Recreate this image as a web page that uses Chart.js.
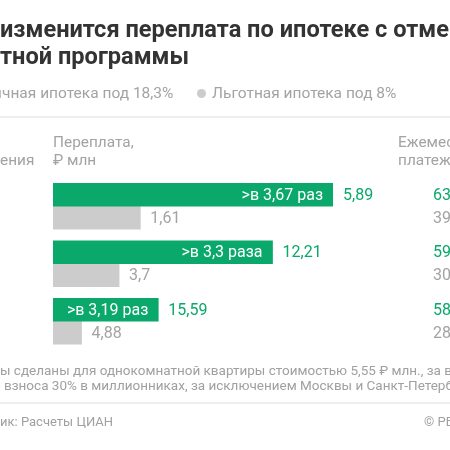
<!DOCTYPE html>
<html>
<head>
<meta charset="utf-8">
<script src="https://cdn.jsdelivr.net/npm/chart.js@4.4.1/dist/chart.umd.min.js"></script>
<style>
  html, body { margin:0; padding:0; width:450px; height:450px; overflow:hidden; background:#fff; }
  body { position:relative; font-family: Roboto, "Noto Sans", sans-serif; }
  .t { position:absolute; white-space:nowrap; }
  .hid { position:absolute; right:100%; top:0; }
  .title { font-weight:700; font-size:23.6px; line-height:27px; color:#333; }
  .leg { font-size:15.5px; line-height:18px; color:#a3a3a3; }
  .hdr { font-size:15.4px; line-height:18px; color:#a3a3a3; }
  .note { font-size:13.5px; line-height:16px; color:#a0a0a0; }
  .src { font-size:13px; line-height:16px; color:#a0a0a0; }
  .rule { position:absolute; left:0; width:450px; height:2px; background:#eeeeee; }
  #wrap { position:absolute; left:0; top:0; width:450px; height:450px; }
</style>
</head>
<body>
<div id="wrap"><canvas id="c" width="450" height="450"></canvas></div>

<div class="t title" style="left:0; top:16px;"><span class="hid">Как&nbsp;</span>изменится переплата по ипотеке с отменой</div>
<div class="t title" style="left:0; top:43px;"><span class="hid">льго</span>тной программы</div>

<div class="t leg" style="left:2px; top:84px;"><span class="hid">● Ры</span>чная ипотека под 18,3%</div>
<div style="position:absolute; left:197px; top:89px; width:9px; height:9px; border-radius:50%; background:#cccccc;"></div>
<div class="t leg" style="left:212px; top:84px;">Льготная ипотека под 8%</div>

<div class="rule" style="top:116px;"></div>

<div class="t hdr" style="left:0; top:151px;"><span class="hid">погаш</span>ения</div>
<div class="t hdr" style="left:53px; top:133px;">Переплата,</div>
<div class="t hdr" style="left:53px; top:151px;">₽ млн</div>
<div class="t hdr" style="left:398px; top:133px;">Ежемесячный</div>
<div class="t hdr" style="left:398px; top:151px;">платеж, ₽</div>

<div class="t note" style="left:0; top:362px;"><span class="hid">*Расчет</span>ы сделаны для однокомнатной квартиры стоимостью 5,55 ₽ млн., за вычетом</div>
<div class="t note" style="left:4px; top:377px;"><span class="hid">первоначального&nbsp;</span>взноса 30% в миллионниках, за исключением Москвы и Санкт-Петербурга</div>

<div class="rule" style="top:402px;"></div>

<div class="t src" style="left:0; top:414px;"><span class="hid">Источн</span>ик: Расчеты ЦИАН</div>
<div class="t src" style="left:424px; top:414px;">© РБК</div>

<script>
// Row categories (row labels are cut off at the left edge in the reference)
const categories = ["Ряд 1", "Ряд 2", "Ряд 3"];
// Bar lengths as drawn in the picture (relative units, longest bar = 100)
const marketBarLength = [100, 78.4, 37.6];
const preferentialBarLength = [31.2, 23.6, 10.2];
// Printed overpayment values, ₽ mln
const marketOverpay = ["5,89", "12,21", "15,59"];
const preferentialOverpay = ["1,61", "3,7", "4,88"];
// Ratio labels inside green bars
const ratioLabels = [">в 3,67 раз", ">в 3,3 раза", ">в 3,19 раз"];
// Monthly payment column (only the leading digits are visible)
const marketMonthly = ["63", "59", "58"];
const preferentialMonthly = ["39", "30", "28"];

const GREEN = "#0aa86a";
const GRAY_BAR = "#cccccc";
const GRAY_TXT = "#a3a3a3";

const labelPlugin = {
  id: "labels",
  afterDatasetsDraw(chart) {
    const ctx = chart.ctx;
    ctx.save();
    ctx.font = "16px Roboto, 'Noto Sans', sans-serif";
    ctx.textBaseline = "middle";
    const m0 = chart.getDatasetMeta(0).data;
    const m1 = chart.getDatasetMeta(1).data;
    m0.forEach((bar, i) => {
      ctx.fillStyle = "#ffffff";
      ctx.textAlign = "right";
      ctx.fillText(ratioLabels[i], bar.x - 10, bar.y + 1);
      ctx.fillStyle = GREEN;
      ctx.textAlign = "left";
      ctx.fillText(marketOverpay[i], bar.x + 10, bar.y + 1);
      ctx.fillText(marketMonthly[i], 433, bar.y + 1);
    });
    m1.forEach((bar, i) => {
      ctx.fillStyle = GRAY_TXT;
      ctx.textAlign = "left";
      ctx.fillText(preferentialOverpay[i], bar.x + 10, bar.y + 1);
      ctx.fillText(preferentialMonthly[i], 433, bar.y + 1);
    });
    ctx.restore();
  }
};

new Chart(document.getElementById("c"), {
  type: "bar",
  data: {
    labels: categories,
    datasets: [
      { label: "Рыночная ипотека под 18,3%", data: marketBarLength, backgroundColor: GREEN, barThickness: 23, categoryPercentage: 50/57.5 },
      { label: "Льготная ипотека под 8%", data: preferentialBarLength, backgroundColor: GRAY_BAR, barThickness: 23, categoryPercentage: 50/57.5 }
    ]
  },
  options: {
    indexAxis: "y",
    responsive: false,
    animation: false,
    devicePixelRatio: 1,
    layout: { padding: { left: 53, right: 117, top: 177.5, bottom: 100 } },
    plugins: { legend: { display: false }, title: { display: false }, tooltip: { enabled: false } },
    scales: {
      x: { display: false, min: 0, max: 100 },
      y: { display: false }
    }
  },
  plugins: [labelPlugin]
});
</script>
</body>
</html>
